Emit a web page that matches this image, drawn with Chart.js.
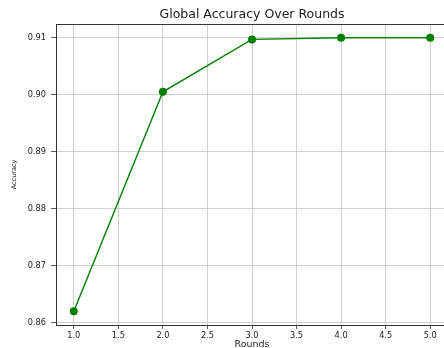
<!DOCTYPE html>
<html>
<head>
<meta charset="utf-8">
<script src="https://cdn.jsdelivr.net/npm/chart.js@4/dist/chart.umd.min.js"></script>
<style>
html,body{margin:0;padding:0;background:#fff;overflow:hidden;width:444px;height:348px;}
#wrap{position:absolute;left:0;top:0;width:444px;height:348px;overflow:hidden;}
canvas{display:block;}
</style>
</head>
<body>
<div id="wrap"><canvas id="c" width="470" height="360"></canvas></div>
<script>
const rounds = [1, 2, 3, 4, 5];
const accuracy = [0.862, 0.9005, 0.9097, 0.9100, 0.9100];
const xTicks = [1.0, 1.5, 2.0, 2.5, 3.0, 3.5, 4.0, 4.5, 5.0];
const yTicks = [0.86, 0.87, 0.88, 0.89, 0.90, 0.91];
const chartTitle = 'Global Accuracy Over Rounds';

const FONT = "'DejaVu Sans', sans-serif";
const frame = {
  id: 'frame',
  afterDraw(chart) {
    const {ctx, chartArea} = chart;
    ctx.save();
    ctx.strokeStyle = '#333';
    ctx.lineWidth = 1;
    ctx.beginPath();
    ctx.moveTo(chartArea.left, chartArea.top + 0.5);
    ctx.lineTo(chartArea.right, chartArea.top + 0.5);
    ctx.stroke();
    ctx.fillStyle = '#222';
    ctx.font = "12.5px " + FONT;
    ctx.textAlign = 'center';
    ctx.textBaseline = 'middle';
    ctx.fillText(chartTitle, (chartArea.left + chartArea.right) / 2, 15);
    ctx.restore();
  }
};

new Chart(document.getElementById('c'), {
  type: 'line',
  data: {
    datasets: [{
      data: rounds.map((r, i) => ({x: r, y: accuracy[i]})),
      borderColor: '#008000',
      backgroundColor: '#008000',
      borderWidth: 1.4,
      pointRadius: 3.3,
      pointHoverRadius: 3.3,
      tension: 0,
      fill: false
    }]
  },
  options: {
    responsive: false,
    animation: false,
    devicePixelRatio: 1,
    layout: {padding: {left: 0, right: 22, top: 24, bottom: 0}},
    plugins: {
      legend: {display: false},
      tooltip: {enabled: false},
      title: {display: false}
    },
    scales: {
      x: {
        type: 'linear',
        min: 0.8,
        max: 5.2,
        afterBuildTicks(s) { s.ticks = xTicks.map(v => ({value: v})); },
        afterFit(s) { s.height = 35; },
        ticks: {
          color: '#222',
          font: {family: FONT, size: 8.2},
          padding: 2,
          maxRotation: 0,
          callback: v => v.toFixed(1)
        },
        grid: {color: '#c4c4c4', lineWidth: 0.8, tickColor: '#333', tickLength: 4},
        border: {color: '#333', width: 1},
        title: {
          display: true,
          text: 'Rounds',
          color: '#222',
          font: {family: FONT, size: 9.5},
          padding: {top: 0, bottom: 10}
        }
      },
      y: {
        type: 'linear',
        min: 0.8596,
        max: 0.9124,
        afterBuildTicks(s) { s.ticks = yTicks.map(v => ({value: v})); },
        afterFit(s) { s.width = 56; },
        ticks: {
          color: '#222',
          font: {family: FONT, size: 8.2},
          padding: 5,
          callback: v => v.toFixed(2)
        },
        grid: {color: '#c4c4c4', lineWidth: 0.8, tickColor: '#333', tickLength: 5},
        border: {color: '#333', width: 1},
        title: {
          display: true,
          text: 'Accuracy',
          color: '#222',
          font: {family: FONT, size: 6.5},
          padding: {top: 10, bottom: 0}
        }
      }
    }
  },
  plugins: [frame]
});
</script>
</body>
</html>
